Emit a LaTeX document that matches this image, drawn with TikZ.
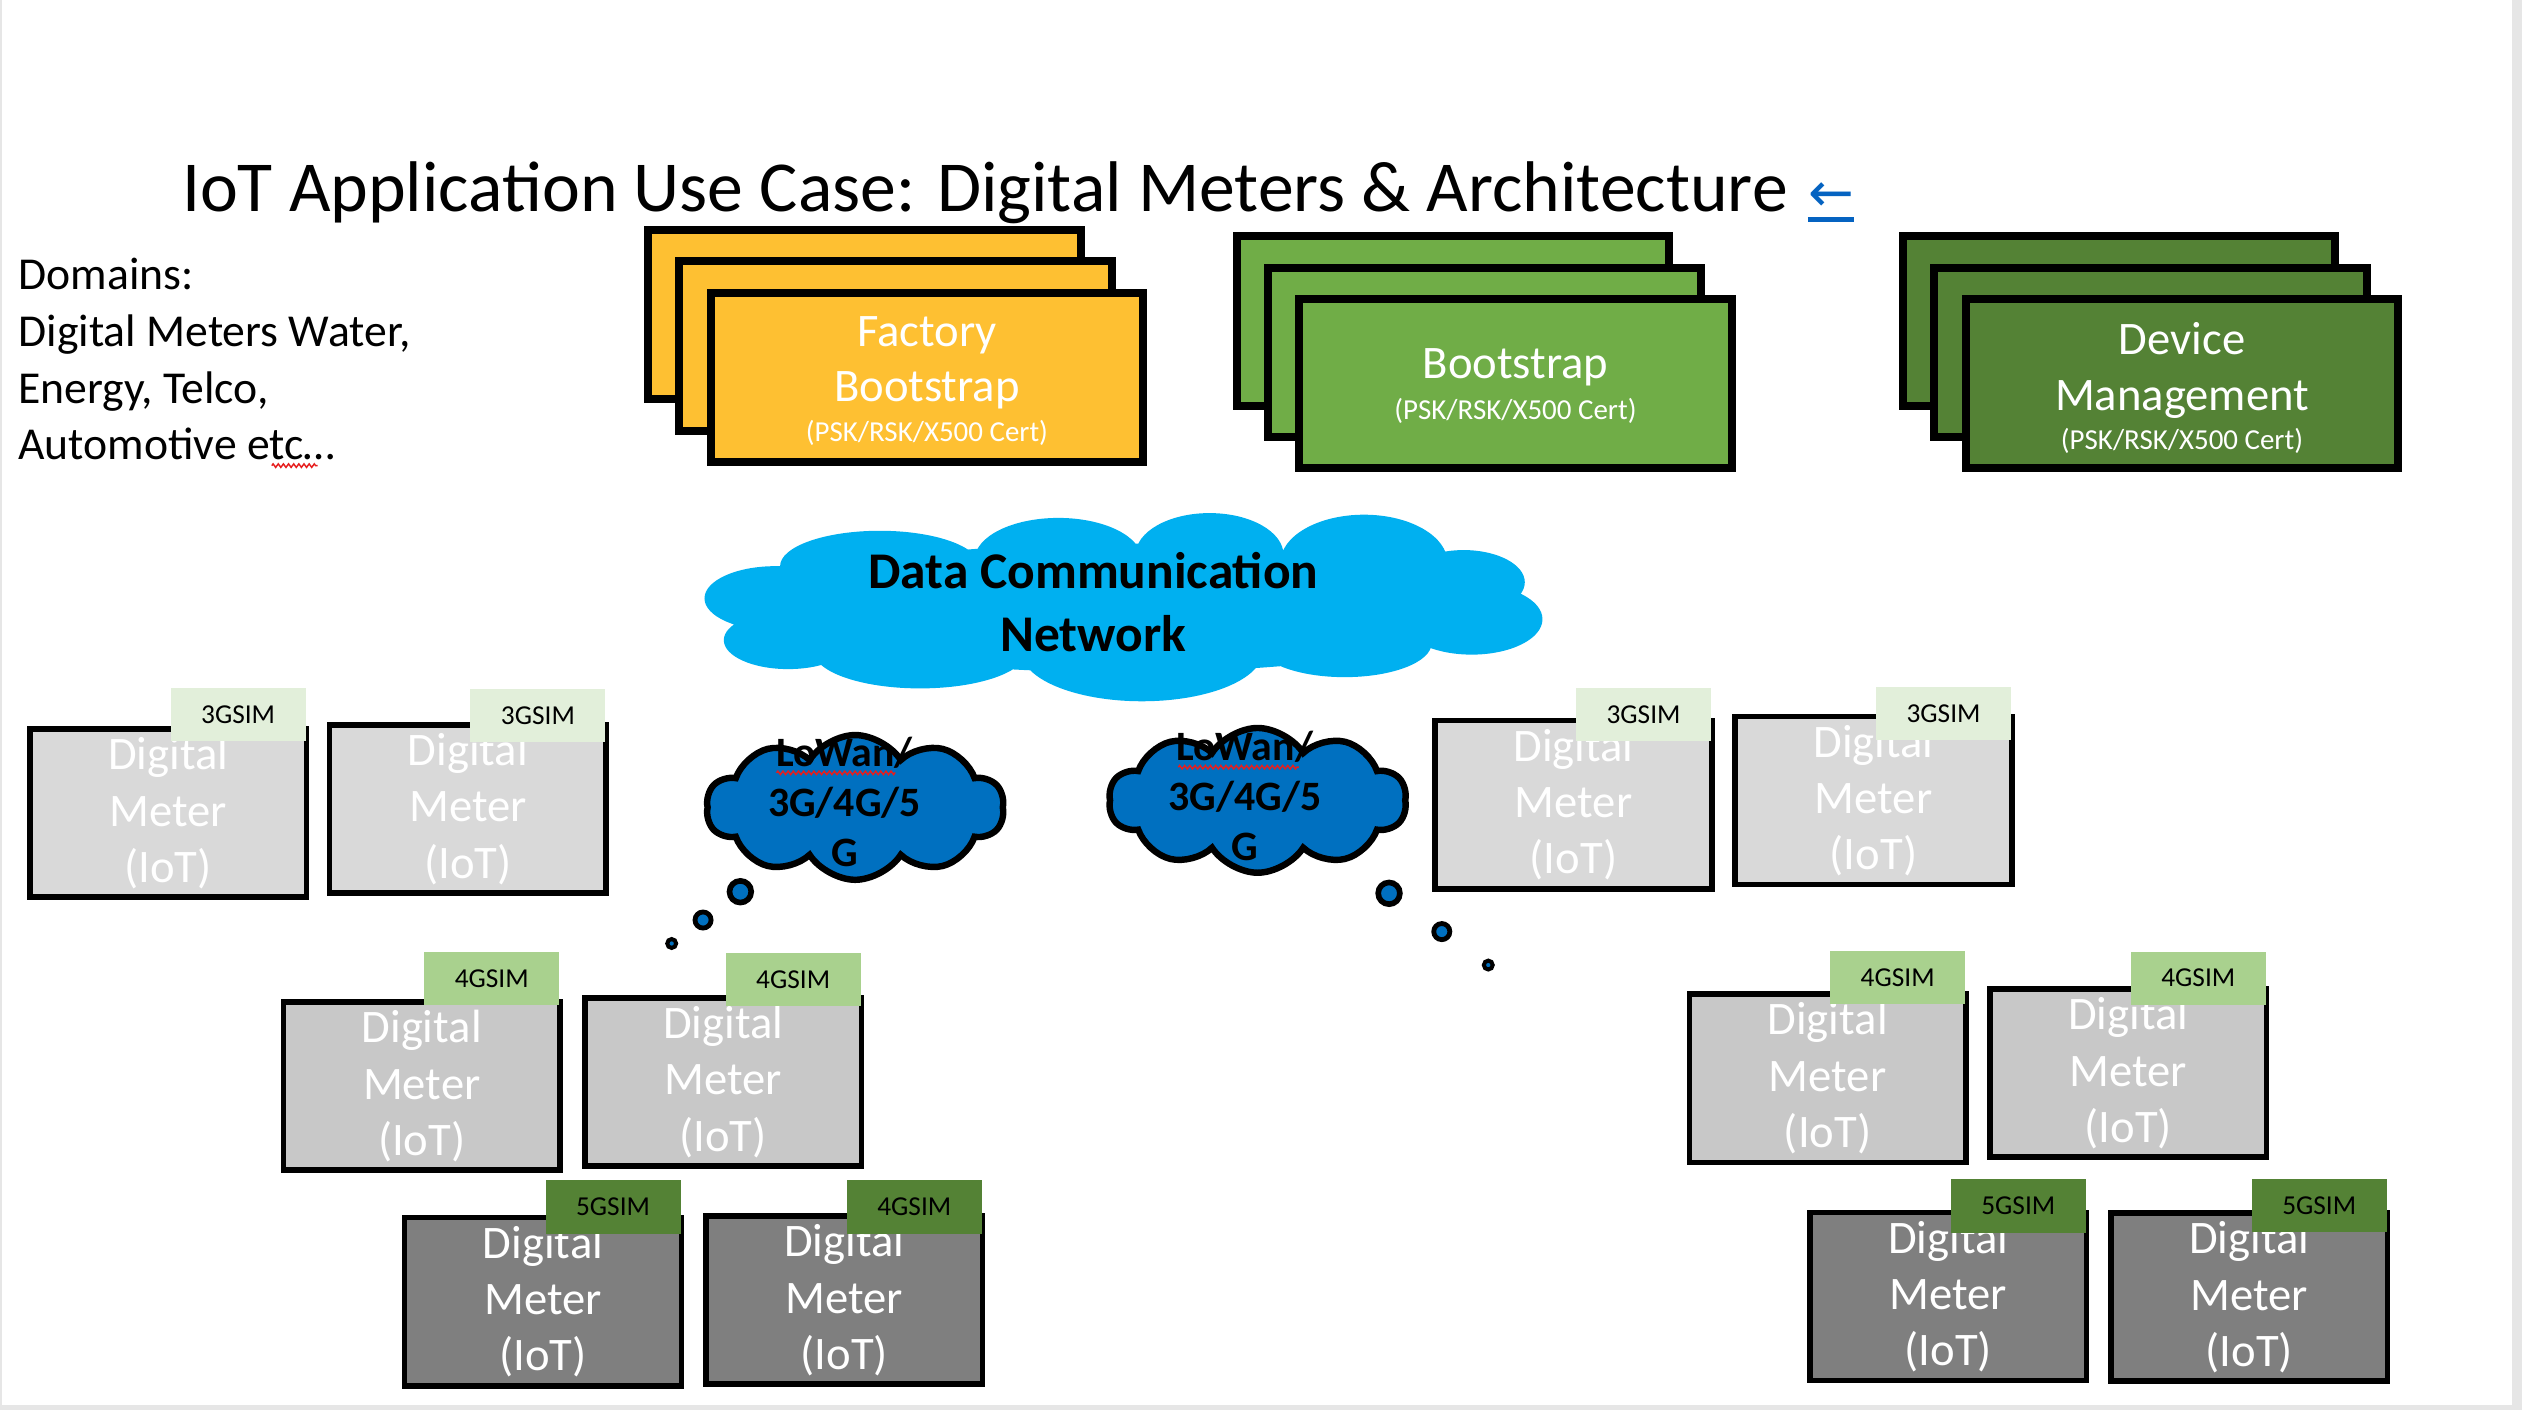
\documentclass[tikz,border=0pt]{standalone}
\usepackage{fontspec}
\setmainfont{Carlito}
\newfontfamily\arrowfont{DejaVu Sans}
\usepackage{xcolor}
\usepackage{tikz}
\usetikzlibrary{positioning, calc, shapes.symbols, decorations.pathmorphing}
\definecolor{cardgold}{RGB}{254,192,50}
\definecolor{cardgreen}{RGB}{112,173,71}
\definecolor{carddark}{RGB}{84,130,53}
\definecolor{netblue}{RGB}{0,176,240}
\definecolor{wanblue}{RGB}{0,112,192}
\definecolor{meterlight}{RGB}{217,217,217}
\definecolor{metermid}{RGB}{200,200,200}
\definecolor{meterdark}{RGB}{127,127,127}
\definecolor{simlight}{RGB}{226,239,218}
\definecolor{simmid}{RGB}{169,209,142}
\definecolor{simdark}{RGB}{84,130,53}
\definecolor{linkblue}{RGB}{5,99,193}
\definecolor{framegray}{RGB}{230,230,230}
\definecolor{spellred}{RGB}{230,30,30}
\tikzset{
    stackcard/.style={
        draw=black, line width=5pt, minimum width=269pt, minimum height=105.3pt, inner sep=0pt
    },
    cardlabel/.style={
        text=white, font=\fontsize{29}{34.5}\selectfont, align=center, inner sep=0pt, anchor=base
    },
    certlabel/.style={
        text=white, font=\fontsize{18}{22}\selectfont, inner sep=0pt, anchor=base
    },
    meterbox/.style={
        draw=black, line width=3.5pt, minimum width=172pt, minimum height=104.5pt,
        inner sep=0pt, text=white, align=center, font=\fontsize{29}{35}\selectfont
    },
    simtag/.style={
        minimum width=84pt, minimum height=33pt, inner sep=0pt,
        font=\fontsize{17}{20}\selectfont, anchor=south east
    },
    spellmark/.style={
        spellred, line width=0.9pt, decorate,
        decoration={zigzag, amplitude=1.1pt, segment length=3.2pt}
    }
}

\begin{document}
\begin{tikzpicture}[
        x=1pt, y=-1pt,
        wancloud/.style={
            cloud, cloud puffs=10, cloud puff arc=115, cloud ignores aspect,
            draw=black, line width=4pt, fill=wanblue,
            minimum width=185pt, minimum height=90pt, inner sep=0pt
        },
        wanlabel/.style={
            font=\bfseries\fontsize{26}{31}\selectfont, align=center, inner sep=0pt, anchor=base
        },
        bubble/.style={circle, draw=black, fill=wanblue, inner sep=0pt}
    ]

        % Khung trang
        \useasboundingbox (0,0) rectangle (1568,876.7);
        \fill[framegray] (0,0) rectangle (1568,876.7);
        \fill[white] (1.5,0) rectangle (1561.5,873.5);

        % Tiêu đề
        \node[anchor=base west, inner sep=0pt, font=\fontsize{44.6}{53}\selectfont] (title) at (113,131.6)
            {IoT Application Use Case: Digital Meters \& Architecture};
        \node[anchor=base west, inner sep=0pt, text=linkblue, font=\arrowfont\fontsize{34}{40}\selectfont] (backlink) at (1124,131.6) {←};
        \draw[linkblue, line width=2.8pt] ($(backlink.base west)+(0,5)$) -- ($(backlink.base east)+(0,5)$);

        % Các lĩnh vực (mốc là dòng cuối)
        \node[anchor=base west, inner sep=0pt, align=left, font=\fontsize{28.4}{35.2}\selectfont] (domains) at (11.3,285.9)
            {Domains:\\Digital Meters Water,\\Energy, Telco,\\Automotive etc…};
        \draw[spellmark] (169,289.5) -- (197.4,289.5);

        % Ngăn xếp Factory Bootstrap
        \node[stackcard, fill=cardgold] (fbBack) at (537.5,195.6) {};
        \node[stackcard, fill=cardgold] (fbMid) at ($(fbBack)+(19.4,19.6)$) {};
        \node[stackcard, fill=cardgold] (fbFront) at ($(fbMid)+(19.4,19.6)$) {};
        \node[cardlabel] (fbName) at ($(fbFront.north)+(0,70)$) {Factory\\Bootstrap};
        \node[certlabel] (fbCert) at ($(fbFront.south)+(0,-15.6)$) {(PSK/RSK/X500 Cert)};

        % Ngăn xếp Bootstrap
        \node[stackcard, fill=cardgreen] (bsBack) at (903.4,199.5) {};
        \node[stackcard, fill=cardgreen] (bsMid) at ($(bsBack)+(19.4,19.5)$) {};
        \node[stackcard, fill=cardgreen] (bsFront) at ($(bsMid)+(19.4,19.5)$) {};
        \node[cardlabel] (bsName) at ($(bsFront.north)+(0,52)$) {Bootstrap};
        \node[certlabel] (bsCert) at ($(bsFront.south)+(0,-33)$) {(PSK/RSK/X500 Cert)};

        % Ngăn xếp Device Management
        \node[stackcard, fill=carddark] (dmBack) at (1317.4,199.6) {};
        \node[stackcard, fill=carddark] (dmMid) at ($(dmBack)+(19.6,19.5)$) {};
        \node[stackcard, fill=carddark] (dmFront) at ($(dmMid)+(19.6,19.5)$) {};
        \node[cardlabel] (dmName) at ($(dmFront.north)+(0,71.5)$) {Device\\Management};
        \node[certlabel] (dmCert) at ($(dmFront.south)+(0,-14.1)$) {(PSK/RSK/X500 Cert)};

        % Mạng truyền dữ liệu (đám mây ghép từ các elip)
        \fill[netblue]
            (698,378) ellipse [x radius=230pt, y radius=40pt]
            (547,352) ellipse [x radius=62pt, y radius=22pt]
            (658,348) ellipse [x radius=52pt, y radius=26pt]
            (752,345) ellipse [x radius=46pt, y radius=26pt]
            (848,350) ellipse [x radius=52pt, y radius=30pt]
            (910,362) ellipse [x radius=38pt, y radius=20pt]
            (915,385) ellipse [x radius=44pt, y radius=22pt]
            (836,400) ellipse [x radius=54pt, y radius=21pt]
            (710,405) ellipse [x radius=75pt, y radius=31pt]
            (572,405) ellipse [x radius=66pt, y radius=23pt]
            (490,398) ellipse [x radius=40pt, y radius=18pt]
            (482,372) ellipse [x radius=44pt, y radius=20pt];
        \node[anchor=base, inner sep=0pt, align=center, font=\bfseries\fontsize{32}{39.4}\selectfont] (dcnetText) at (679.8,405.2)
            {Data Communication\\Network};

        % Hai đám mây LoWan
        \node[wancloud] (wanL) at (531.7,502) {};
        \node[wanlabel] (wanLText) at (525,538.8) {LoWan/\\3G/4G/5\\G};
        \draw[spellmark] (482.8,480.5) -- (556.6,480.5);
        \node[wancloud] (wanR) at (781.9,497.6) {};
        \node[wanlabel] (wanRText) at (774,534.7) {LoWan/\\3G/4G/5\\G};
        \draw[spellmark] (732.6,477) -- (807.5,477);

        % Bong bóng
        \node[bubble, minimum size=13.5pt, line width=3.5pt] (bubL1) at (460.3,554.4) {};
        \node[bubble, minimum size=10pt, line width=3pt] (bubL2) at (437.1,572) {};
        \node[bubble, minimum size=5.5pt, line width=2.5pt] (bubL3) at (417.6,586.6) {};
        \node[bubble, minimum size=13.5pt, line width=3.5pt] (bubR1) at (863.6,555.4) {};
        \node[bubble, minimum size=10pt, line width=3pt] (bubR2) at (896.4,579.2) {};
        \node[bubble, minimum size=5.5pt, line width=2.5pt] (bubR3) at (925.3,600) {};

        % Đồng hồ số - nhóm trái
        \node[meterbox, fill=meterlight] (mA) at (104.5,505.6) {Digital\\Meter\\(IoT)};
        \node[simtag, fill=simlight] (tA) at ($(mA.north east)+(-2,9.3)$) {3GSIM};
        \node[meterbox, fill=meterlight] (mB) at (290.9,502.9) {Digital\\Meter\\(IoT)};
        \node[simtag, fill=simlight] (tB) at ($(mB.north east)+(-2,12.7)$) {3GSIM};
        \node[meterbox, fill=metermid] (mC) at (262.2,675.3) {Digital\\Meter\\(IoT)};
        \node[simtag, fill=simmid] (tC) at ($(mC.north east)+(-2,3.6)$) {4GSIM};
        \node[meterbox, fill=metermid] (mD) at (449.6,672.7) {Digital\\Meter\\(IoT)};
        \node[simtag, fill=simmid] (tD) at ($(mD.north east)+(-2,6.9)$) {4GSIM};
        \node[meterbox, fill=meterdark] (mE) at (337.6,809.3) {Digital\\Meter\\(IoT)};
        \node[simtag, fill=simdark] (tE) at ($(mE.north east)+(-2,11.8)$) {5GSIM};
        \node[meterbox, fill=meterdark] (mF) at (524.9,808.4) {Digital\\Meter\\(IoT)};
        \node[simtag, fill=simdark] (tF) at ($(mF.north east)+(-2,12.7)$) {4GSIM};

        % Đồng hồ số - nhóm phải
        \node[meterbox, fill=meterlight] (mG) at (978.3,500.3) {Digital\\Meter\\(IoT)};
        \node[simtag, fill=simlight] (tG) at ($(mG.north east)+(-2,14.5)$) {3GSIM};
        \node[meterbox, fill=meterlight] (mH) at (1164.8,497.7) {Digital\\Meter\\(IoT)};
        \node[simtag, fill=simlight] (tH) at ($(mH.north east)+(-2,16.8)$) {3GSIM};
        \node[meterbox, fill=metermid] (mI) at (1136.3,670.4) {Digital\\Meter\\(IoT)};
        \node[simtag, fill=simmid] (tI) at ($(mI.north east)+(-2,8.1)$) {4GSIM};
        \node[meterbox, fill=metermid] (mJ) at (1323.2,667.2) {Digital\\Meter\\(IoT)};
        \node[simtag, fill=simmid] (tJ) at ($(mJ.north east)+(-2,11.6)$) {4GSIM};
        \node[meterbox, fill=meterdark] (mK) at (1211.3,806) {Digital\\Meter\\(IoT)};
        \node[simtag, fill=simdark] (tK) at ($(mK.north east)+(-2,14.5)$) {5GSIM};
        \node[meterbox, fill=meterdark] (mL) at (1398.4,806.5) {Digital\\Meter\\(IoT)};
        \node[simtag, fill=simdark] (tL) at ($(mL.north east)+(-2,13.9)$) {5GSIM};

    \end{tikzpicture}
\end{document}
